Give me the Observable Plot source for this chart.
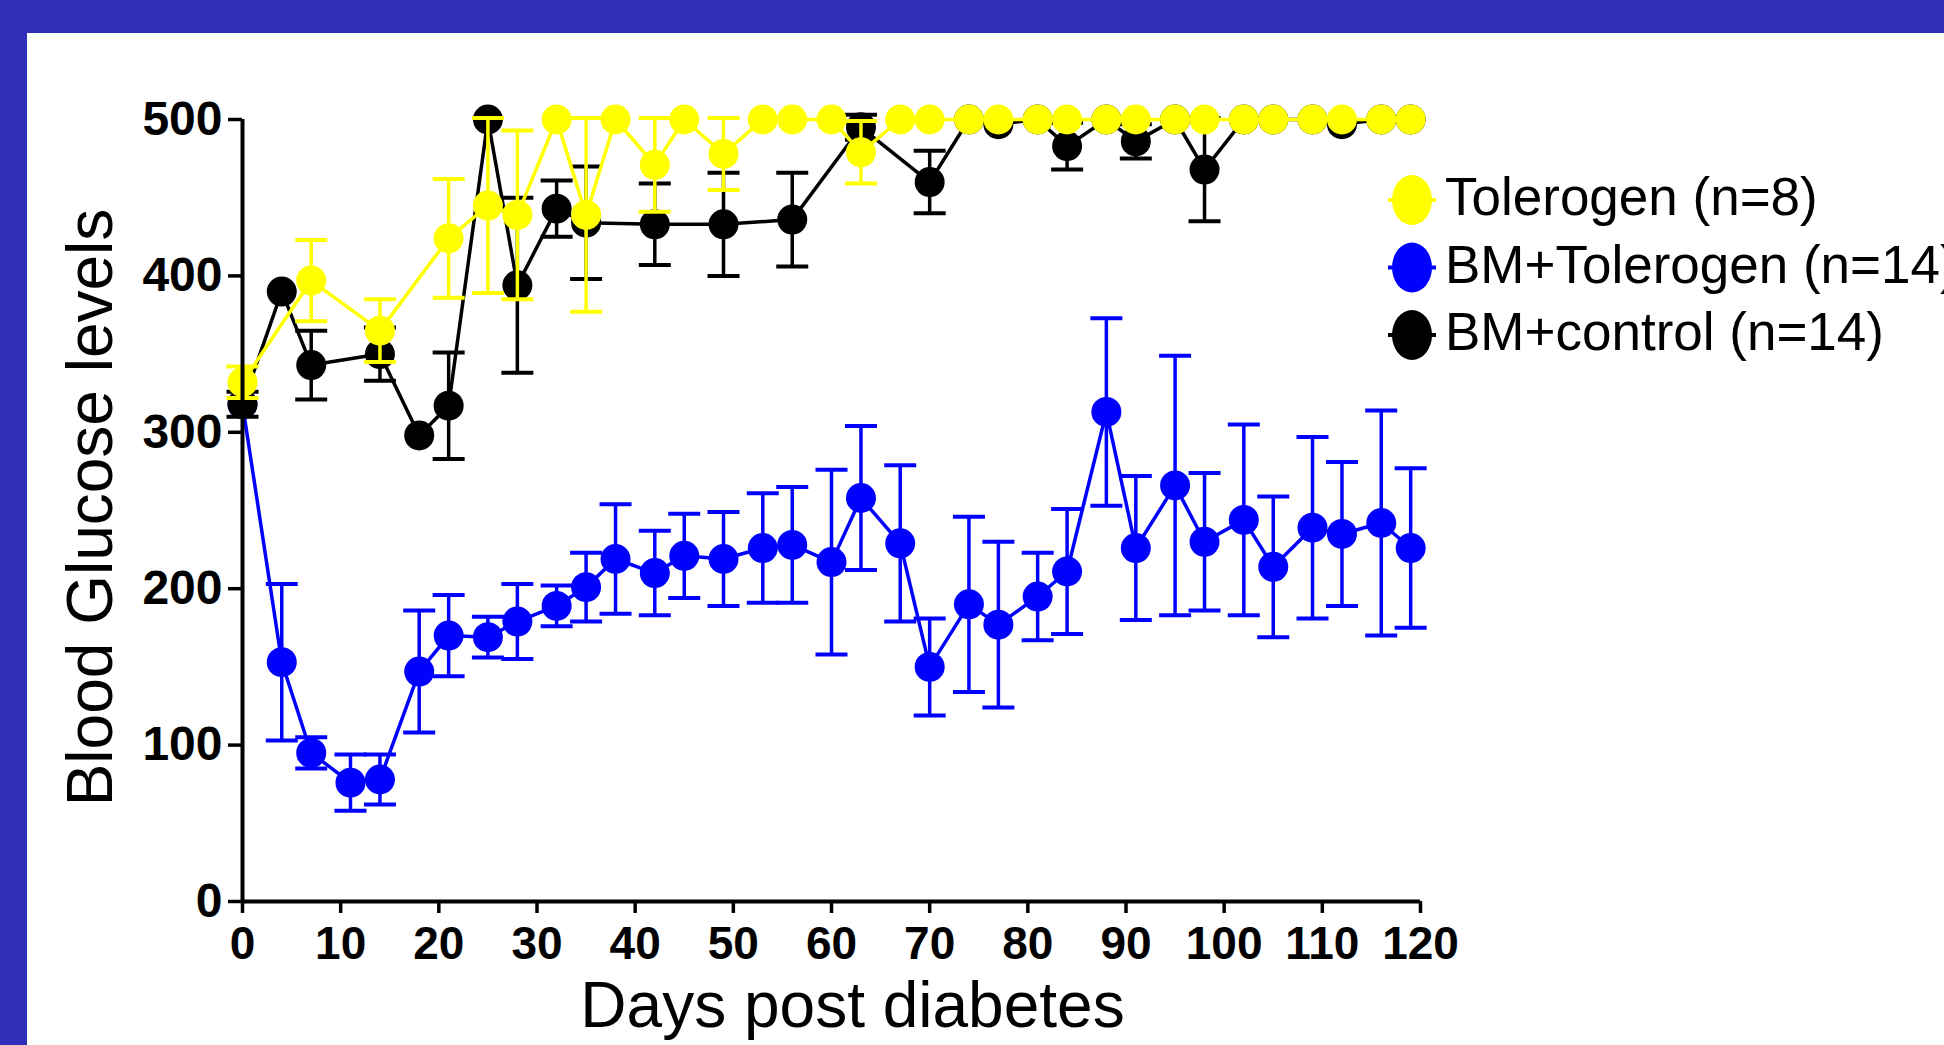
<!DOCTYPE html>
<html>
<head>
<meta charset="utf-8">
<script src="https://cdn.jsdelivr.net/npm/d3@7"></script>
<script src="https://cdn.jsdelivr.net/npm/@observablehq/plot@0.6"></script>
<style>
  html, body { margin: 0; padding: 0; width: 1944px; height: 1045px; overflow: hidden; background: #2f2fb9; }
  #panel { position: absolute; left: 27px; top: 33px; width: 1917px; height: 1012px; background: #ffffff; overflow: hidden; }
  #chart { position: absolute; left: 0; top: 0; }
  #legend { position: absolute; left: 1350px; top: 120px; }
</style>
</head>
<body>
<div id="panel"><div id="chart"></div><svg id="legend" width="567" height="260"></svg></div>
<script>
// ---- data ----
const xTicks = [0, 10, 20, 30, 40, 50, 60, 70, 80, 90, 100, 110, 120];
const yTicks = [0, 100, 200, 300, 400, 500];

const seriesNames = ["Tolerogen (n=8)", "BM+Tolerogen (n=14)", "BM+control (n=14)"];
const seriesColors = ["#ffff00", "#0000ff", "#000000"];

// Tolerogen (n=8)
const tolDays = [0, 7, 14, 21, 25, 28, 32, 35, 38, 42, 45, 49, 53, 56, 60, 63, 67, 70, 74, 77, 81, 84, 88, 91, 95, 98, 102, 105, 109, 112, 116, 119];
const tolMean = [332, 397, 365, 424, 445, 439, 500, 439, 500, 471, 500, 478, 500, 500, 500, 479, 500, 500, 500, 500, 500, 500, 500, 500, 500, 500, 500, 500, 500, 500, 500, 500];
const tolErr  = [10, 26, 20, 38, 56, 54, 0, 62, 0, 30, 0, 23, 0, 0, 0, 20, 0, 0, 0, 0, 0, 0, 0, 0, 0, 0, 0, 0, 0, 0, 0, 0];

// BM+Tolerogen (n=14)
const bmtDays = [0, 4, 7, 11, 14, 18, 21, 25, 28, 32, 35, 38, 42, 45, 49, 53, 56, 60, 63, 67, 70, 74, 77, 81, 84, 88, 91, 95, 98, 102, 105, 109, 112, 116, 119];
const bmtMean = [318, 153, 95, 76, 78, 147, 170, 169, 179, 189, 201, 219, 210, 221, 219, 226, 228, 217, 258, 229, 150, 190, 177, 195, 211, 313, 226, 266, 230, 244, 214, 239, 235, 242, 226];
const bmtErr  = [0, 50, 10, 18, 16, 39, 26, 13, 24, 13, 22, 35, 27, 27, 30, 35, 37, 59, 46, 50, 31, 56, 53, 28, 40, 60, 46, 83, 44, 61, 45, 58, 46, 72, 51];

// BM+control (n=14)
const ctlDays = [0, 4, 7, 14, 18, 21, 25, 28, 32, 35, 42, 49, 56, 63, 70, 74, 77, 81, 84, 88, 91, 95, 98, 102, 105, 109, 112, 116, 119];
const ctlMean = [318, 390, 343, 350, 298, 317, 500, 394, 443, 434, 433, 433, 436, 495, 460, 500, 497, 500, 483, 500, 486, 500, 468, 500, 500, 500, 497, 500, 500];
const ctlErr  = [8, 0, 22, 17, 0, 34, 0, 56, 18, 36, 26, 33, 30, 8, 20, 0, 0, 0, 15, 0, 11, 0, 33, 0, 0, 0, 0, 0, 0];

const xLabel = "Days post diabetes";
const yLabel = "Blood Glucose levels";

// ---- build tables ----
function rows(days, mean, err) {
  return days.map((d, i) => ({day: d, mean: mean[i], err: err[i]}));
}
const tol = rows(tolDays, tolMean, tolErr);
const bmt = rows(bmtDays, bmtMean, bmtErr);
const ctl = rows(ctlDays, ctlMean, ctlErr);

// horizontal cap symbol for error bars (pixel width)
const capSymbol = { draw(ctx) { ctx.moveTo(-16, 0); ctx.lineTo(16, 0); } };

function seriesMarks(data, color) {
  const withErr = data.filter(d => d.err > 0);
  return [
    Plot.line(data, {x: "day", y: "mean", stroke: color, strokeWidth: 3.5}),
    Plot.ruleX(withErr, {x: "day", y1: d => d.mean - d.err, y2: d => d.mean + d.err, stroke: color, strokeWidth: 3.5}),
    Plot.dot(withErr, {x: "day", y: d => d.mean + d.err, symbol: capSymbol, stroke: color, fill: "none", strokeWidth: 4}),
    Plot.dot(withErr, {x: "day", y: d => d.mean - d.err, symbol: capSymbol, stroke: color, fill: "none", strokeWidth: 4}),
    Plot.dot(data, {x: "day", y: "mean", r: 15, fill: color, stroke: "none"})
  ];
}

const chart = Plot.plot({
  width: 1917,
  height: 1012,
  marginLeft: 215,
  marginRight: 524,
  marginTop: 86,
  marginBottom: 144,
  style: {background: "#ffffff", fontFamily: "'Liberation Sans', Arial, sans-serif", color: "#000", overflow: "visible"},
  x: {domain: [0, 120], axis: null},
  y: {domain: [0, 500], axis: null},
  marks: [
    ...seriesMarks(bmt, seriesColors[1]),
    ...seriesMarks(ctl, seriesColors[2]),
    ...seriesMarks(tol, seriesColors[0]),
    Plot.ruleX([0], {y1: 0, y2: 500, stroke: "#000", strokeWidth: 4}),
    Plot.ruleY([0], {x1: 0, x2: 120, stroke: "#000", strokeWidth: 4}),
    Plot.axisY({ticks: yTicks, tickSize: 14, tickPadding: 6, fontSize: 48, fontWeight: "bold", strokeWidth: 3.5, label: null}),
    Plot.axisX({ticks: xTicks, tickSize: 12, tickPadding: 13, fontSize: 46, fontWeight: "bold", strokeWidth: 3.5, label: null}),
    Plot.text([yLabel], {frameAnchor: "left", text: d => d, rotate: -90, dx: -151, dy: -3, fontSize: 64, lineAnchor: "middle", textAnchor: "middle", fill: "#000"}),
    Plot.text([xLabel], {frameAnchor: "bottom", text: d => d, dx: 21, dy: 80, fontSize: 64, lineAnchor: "top", textAnchor: "middle", fill: "#000"})
  ]
});
document.getElementById("chart").appendChild(chart);

// ---- legend ----
const leg = d3.select("#legend");
const rowsG = leg.selectAll("g").data(seriesNames).join("g")
  .attr("transform", (d, i) => `translate(35, ${47 + i * 67.5})`);
rowsG.append("line").attr("x1", -24).attr("x2", 24).attr("y1", 0).attr("y2", 0)
  .attr("stroke", (d, i) => seriesColors[i]).attr("stroke-width", 4);
rowsG.append("ellipse").attr("rx", 20).attr("ry", 25)
  .attr("fill", (d, i) => seriesColors[i]);
rowsG.append("text").attr("x", 33).attr("y", 15)
  .attr("font-family", "'Liberation Sans', Arial, sans-serif")
  .attr("font-size", 53).attr("fill", "#000").text(d => d);
</script>
</body>
</html>
